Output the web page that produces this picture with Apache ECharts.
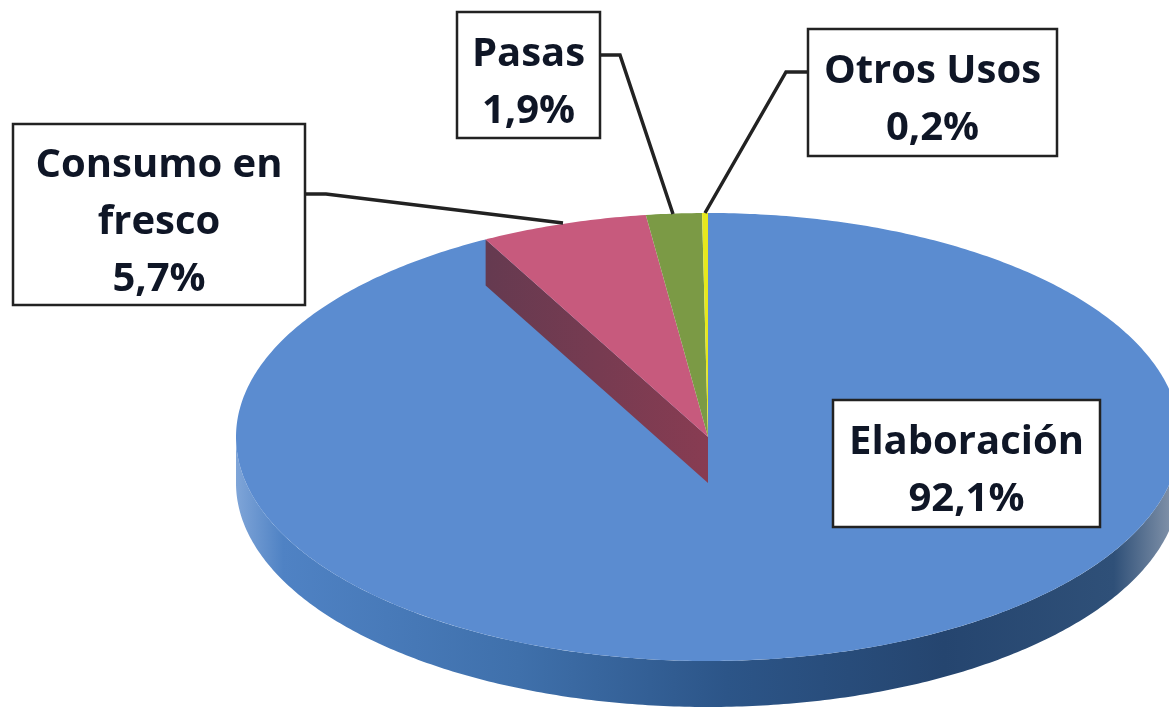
<!DOCTYPE html>
<html>
<head>
<meta charset="utf-8">
<style>html,body{margin:0;padding:0;background:#fff}#main{width:1169px;height:708px}</style>
<script src="https://cdn.jsdelivr.net/npm/echarts@6/dist/echarts.min.js"></script>
</head>
<body>
<div id="main"></div>
<script>
var categories = ['Elaboración', 'Consumo en\nfresco', 'Pasas', 'Otros Usos'];
var shares = [92.1, 5.7, 1.9, 0.2];
var colors = ['#5b8cd0', '#c75a7d', '#7b9a45', '#e6e81e'];

// pie geometry
var cx = 708, cy = 437, rx = 472, ry = 224, depth = 46;

// label boxes: x, y, w, h
var boxes = [
  [833, 400, 267, 127],
  [13, 124, 292, 181],
  [457, 12, 143, 126],
  [808, 29, 249, 127]
];
// leader lines
var leaders = [
  null,
  [[305, 194], [326, 194], [563, 223]],
  [[600, 55], [620, 55], [673, 214]],
  [[808, 72], [786, 72], [705, 213]]
];

var total = shares.reduce(function (a, b) { return a + b; }, 0);

function rim(t, dy) {
  return [cx + rx * Math.sin(t), cy - ry * Math.cos(t) + (dy || 0)];
}

function arcPoints(t0, t1, dy) {
  var pts = [];
  var n = Math.max(2, Math.ceil(Math.abs(t1 - t0) * 90));
  for (var i = 0; i <= n; i++) {
    pts.push(rim(t0 + (t1 - t0) * i / n, dy));
  }
  return pts;
}

function renderItem(params, api) {
  var i = params.dataIndex;
  var before = 0;
  for (var k = 0; k < i; k++) before += shares[k];
  var t0 = before / total * Math.PI * 2;
  var t1 = (before + api.value(0)) / total * Math.PI * 2;
  var children = [];

  if (i === 0) {
    // front side of the disc
    var side = arcPoints(Math.PI * 0.5, Math.PI * 1.5, 0)
      .concat(arcPoints(Math.PI * 1.5, Math.PI * 0.5, depth));
    children.push({
      type: 'polygon',
      shape: { points: side },
      style: {
        fill: new echarts.graphic.LinearGradient(0, 0, 1, 0, [
          { offset: 0, color: '#7fa5d8' },
          { offset: 0.05, color: '#4f82c4' },
          { offset: 0.3, color: '#3f70ab' },
          { offset: 0.52, color: '#2c5588' },
          { offset: 0.75, color: '#25456f' },
          { offset: 0.93, color: '#2f5078' },
          { offset: 1, color: '#8c9bb0' }
        ])
      }
    });
  }

  children.push({
    type: 'polygon',
    shape: { points: [[cx, cy]].concat(arcPoints(t0, t1, 0)) },
    style: { fill: colors[i] }
  });

  if (i === 1) {
    // cut wall under the pink slice, left edge
    var a = rim(t0, 0);
    children.unshift({
      type: 'polygon',
      shape: { points: [a, [a[0], a[1] + depth], [cx, cy + depth], [cx, cy]] },
      style: {
        fill: new echarts.graphic.LinearGradient(0, 0, 1, 0, [
          { offset: 0, color: '#653a50' },
          { offset: 1, color: '#883c52' }
        ])
      }
    });
  }

  if (leaders[i]) {
    children.push({
      type: 'polyline',
      shape: { points: leaders[i] },
      style: { stroke: '#222', lineWidth: 3.5, fill: null }
    });
  }

  var b = boxes[i];
  children.push({
    type: 'rect',
    shape: { x: b[0], y: b[1], width: b[2], height: b[3] },
    style: { fill: '#fff', stroke: '#222', lineWidth: 2.5 }
  });
  children.push({
    type: 'text',
    style: {
      x: b[0] + b[2] / 2,
      y: b[1] + b[3] / 2 + 8,
      text: categories[i] + '\n' + api.value(0).toFixed(1).replace('.', ',') + '%',
      fill: '#0f1626',
      font: 'bold 40px "Open Sans"',
      lineHeight: 57,
      align: 'center',
      verticalAlign: 'middle'
    }
  });

  return { type: 'group', children: children };
}

var myChart = echarts.init(document.getElementById('main'), null, { renderer: 'canvas' });

var option = {
  animation: false,
  backgroundColor: '#fff',
  series: [
    {
      type: 'custom',
      coordinateSystem: 'none',
      clip: false,
      silent: true,
      renderItem: renderItem,
      data: shares.map(function (v) { return [v]; })
    }
  ]
};

myChart.setOption(option);
window.addEventListener('resize', myChart.resize);
</script>
</body>
</html>
